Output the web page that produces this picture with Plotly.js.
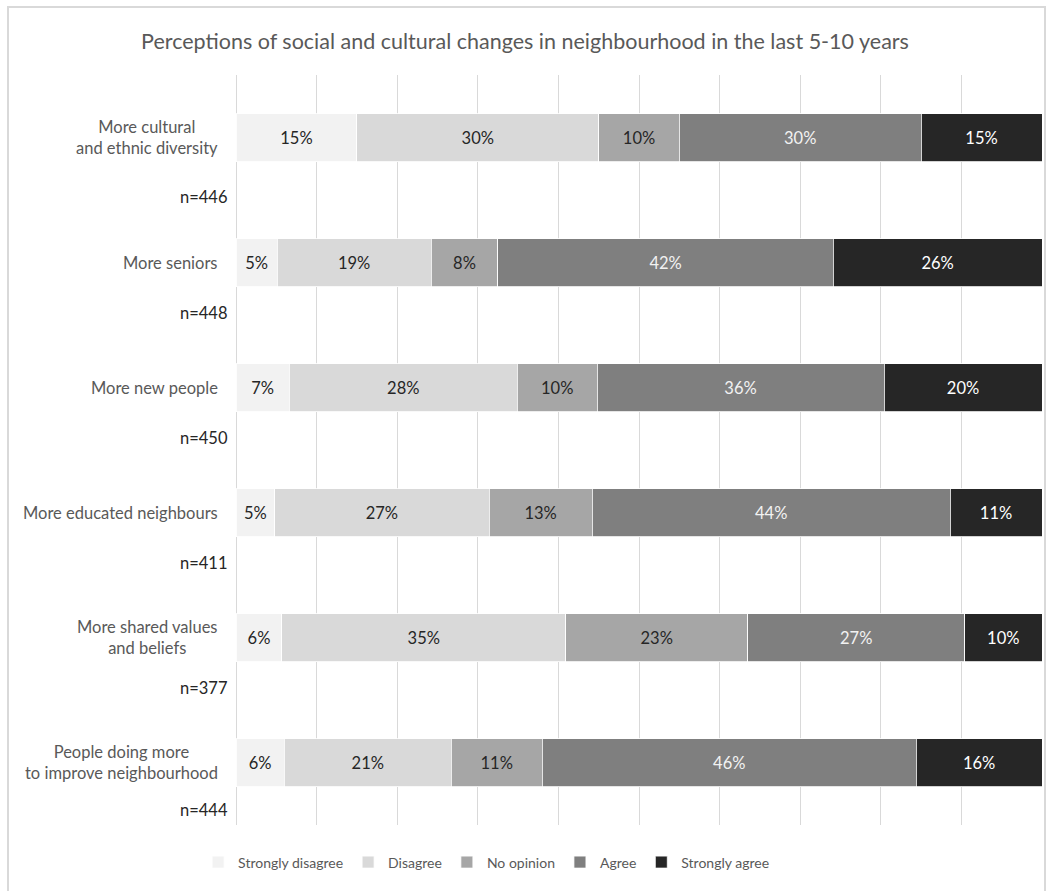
<!DOCTYPE html>
<html>
<head>
<meta charset="utf-8">
<script src="https://cdn.plot.ly/plotly-3.0.1.min.js"></script>
<style>
  html, body { margin: 0; padding: 0; background: #ffffff; }
  #frame { position: absolute; left: 7px; top: 6px; width: 1039px; height: 900px;
           border: 2px solid #d9d9d9; border-bottom: none; box-sizing: border-box; }
  #chart { position: absolute; left: 0; top: 0; width: 1050px; height: 891px; }
</style>
</head>
<body>
<div id="frame"></div>
<div id="chart"></div>
<script>
// ---- data ----
const categories = [
  "More cultural<br>and ethnic diversity",
  "More seniors",
  "More new people",
  "More educated neighbours",
  "More shared values<br>and beliefs",
  "People doing more<br>to improve neighbourhood"
];
const sampleSizes = ["n=446", "n=448", "n=450", "n=411", "n=377", "n=444"];
const seriesNames = ["Strongly disagree", "Disagree", "No opinion", "Agree", "Strongly agree"];
const stronglyDisagree = [15, 5.1, 6.6, 4.8, 5.7, 6.0];
const disagree         = [30, 19.1, 28.3, 26.6, 35.2, 20.7];
const noOpinion        = [10, 8.3, 9.9, 12.8, 22.6, 11.3];
const agree            = [30, 41.6, 35.6, 44.4, 26.9, 46.4];
const stronglyAgree    = [15, 25.9, 19.6, 11.4, 9.6, 15.6];

// ---- styles ----
const FONT = "Lato, 'Open Sans', sans-serif";
const fillColors = ["#f2f2f2", "#d9d9d9", "#a6a6a6", "#7f7f7f", "#262626"];
const textColors = ["#262626", "#262626", "#262626", "#f2f2f2", "#ffffff"];
const nLabelOffsets = [0.476, 0.404, 0.404, 0.404, 0.404, 0.38];
const seriesValues = [stronglyDisagree, disagree, noOpinion, agree, stronglyAgree];

const traces = seriesValues.map((vals, k) => ({
  type: "bar",
  orientation: "h",
  name: seriesNames[k],
  x: vals,
  y: categories.map((c, i) => i),
  marker: { color: fillColors[k], line: { color: "#ffffff", width: 0.8 } },
  texttemplate: "%{x:.0f}%",
  textposition: "inside",
  insidetextanchor: "middle",
  textangle: 0,
  constraintext: "none",
  textfont: { family: FONT, size: 16.5, color: textColors[k] },
  hoverinfo: "skip"
}));

const annotations = [];
categories.forEach((c, i) => {
  annotations.push({
    xref: "paper", yref: "y", x: 0, y: i, xanchor: "right", yanchor: "middle",
    xshift: -16, text: c, showarrow: false, align: "center",
    font: { family: FONT, size: 16.5, color: "#595959" }
  });
  annotations.push({
    xref: "paper", yref: "y", x: 0, y: i + nLabelOffsets[i], xanchor: "right", yanchor: "middle",
    xshift: -6, text: sampleSizes[i], showarrow: false, align: "right",
    font: { family: FONT, size: 16.5, color: "#262626" }
  });
});

const layout = {
  width: 1050, height: 891,
  margin: { l: 236, r: 8, t: 75, b: 66, autoexpand: false },
  paper_bgcolor: "rgba(0,0,0,0)",
  plot_bgcolor: "#ffffff",
  barmode: "stack",
  bargap: 0.616,
  title: {
    text: "Perceptions of social and cultural changes in neighbourhood in the last 5-10 years",
    font: { family: FONT, size: 21.5, color: "#595959" },
    x: 0.5, xanchor: "center", y: 0.953, yanchor: "middle", xref: "container"
  },
  xaxis: {
    range: [0, 100], dtick: 10, tick0: 0, showticklabels: false,
    showgrid: true, gridcolor: "#d9d9d9", gridwidth: 1,
    zeroline: true, zerolinecolor: "#d9d9d9", zerolinewidth: 1,
    showline: false, fixedrange: true
  },
  yaxis: {
    range: [5.5, -0.5], showticklabels: false, showgrid: false,
    zeroline: false, showline: false, fixedrange: true
  },
  showlegend: true,
  legend: {
    orientation: "h", x: -0.047, xanchor: "left",
    y: -0.05, yanchor: "middle",
    font: { family: FONT, size: 14, color: "#595959" },
    traceorder: "normal", itemclick: false, itemdoubleclick: false
  },
  annotations: annotations
};

Plotly.newPlot("chart", traces, layout, { displayModeBar: false, staticPlot: true });
</script>
</body>
</html>
